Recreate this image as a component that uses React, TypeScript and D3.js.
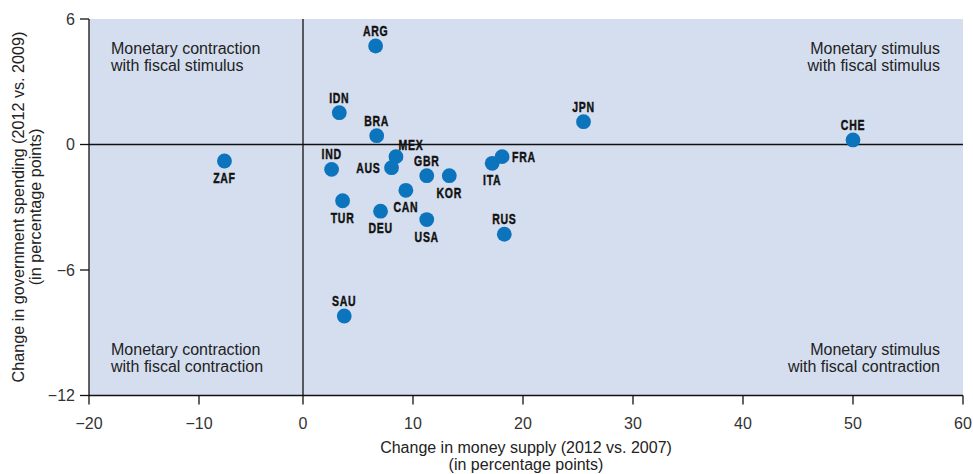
import React from "react";
import * as d3 from "d3";

const countries = ["ARG", "IDN", "BRA", "MEX", "AUS", "IND", "GBR", "KOR", "ITA", "FRA", "CAN", "TUR", "DEU", "USA", "RUS", "JPN", "CHE", "ZAF", "SAU"];
const moneySupply = [6.6, 3.3, 6.7, 8.45, 8.05, 2.6, 11.25, 13.3, 17.2, 18.1, 9.35, 3.6, 7.05, 11.25, 18.3, 25.5, 50.0, -7.55, 3.75];
const govSpending = [4.71, 1.52, 0.42, -0.58, -1.11, -1.19, -1.49, -1.49, -0.9, -0.58, -2.19, -2.69, -3.19, -3.59, -4.29, 1.09, 0.22, -0.79, -8.2];
// label placement: a = above, b = below, l = left, r = right, ar = above-right
const labelPos = ["a", "a", "a", "ar", "l", "a", "a", "b", "b", "r", "b", "b", "b", "b", "a", "a", "a", "b", "a"];

const xTicks = [-20, -10, 0, 10, 20, 30, 40, 50, 60];
const yTicks = [6, 0, -6, -12];

const quadrantLabels = [
  { lines: ["Monetary contraction", "with fiscal stimulus"], corner: "tl" },
  { lines: ["Monetary stimulus", "with fiscal stimulus"], corner: "tr" },
  { lines: ["Monetary contraction", "with fiscal contraction"], corner: "bl" },
  { lines: ["Monetary stimulus", "with fiscal contraction"], corner: "br" },
];

const xTitle = ["Change in money supply (2012 vs. 2007)", "(in percentage points)"];
const yTitle = ["Change in government spending (2012 vs. 2009)", "(in percentage points)"];

const W = 973;
const H = 474;

export default function App() {
  const x = d3.scaleLinear().domain([-20, -10, 0, 60]).range([89, 199, 303, 963]);
  const y = d3.scaleLinear().domain([-12, 6]).range([395.5, 19]);
  const x0 = 89, x1 = 963, y0 = 19, y1 = 395.5;
  const sans = "'Liberation Sans', Arial, sans-serif";
  const textCol = "#222";

  return (
    <svg width={W} height={H} style={{ position: "absolute", left: 0, top: 0, display: "block" }}>
      <rect x={x0} y={y0} width={x1 - x0} height={y1 - y0} fill="#d4deef" />
      {/* zero lines */}
      <line x1={x0} x2={x1} y1={y(0)} y2={y(0)} stroke="#111" strokeWidth={1.3} />
      <line x1={x(0)} x2={x(0)} y1={y0} y2={y1} stroke="#111" strokeWidth={1.3} />
      {/* axes */}
      <line x1={x0} x2={x0} y1={y0} y2={y1} stroke="#111" strokeWidth={1.3} />
      <line x1={x0} x2={x1} y1={y1} y2={y1} stroke="#111" strokeWidth={1.3} />
      {yTicks.map((t) => (
        <g key={"y" + t}>
          <line x1={x0 - 9} x2={x0} y1={y(t)} y2={y(t)} stroke="#111" strokeWidth={1.3} />
          <text x={x0 - 14} y={y(t)} dy="0.36em" textAnchor="end" fontFamily={sans} fontSize={16} fill="#333">
            {t < 0 ? "\u2212" + Math.abs(t) : String(t)}
          </text>
        </g>
      ))}
      {xTicks.map((t) => (
        <g key={"x" + t}>
          <line x1={x(t)} x2={x(t)} y1={y1} y2={y1 + 9} stroke="#111" strokeWidth={1.3} />
          <text x={x(t)} y={y1 + 33} textAnchor="middle" fontFamily={sans} fontSize={16} fill="#333">
            {t < 0 ? "\u2212" + Math.abs(t) : String(t)}
          </text>
        </g>
      ))}
      {/* quadrant labels */}
      {quadrantLabels.map((q, i) => {
        const right = q.corner[1] === "r";
        const top = q.corner[0] === "t";
        const tx = right ? 940 : 111;
        const ty = top ? 53.5 : 354.5;
        return (
          <text key={i} x={tx} y={ty} textAnchor={right ? "end" : "start"} fontFamily={sans} fontSize={16} fill={textCol}>
            {q.lines.map((l, j) => (
              <tspan key={j} x={tx} dy={j === 0 ? 0 : 17.7}>{l}</tspan>
            ))}
          </text>
        );
      })}
      {/* points */}
      {countries.map((c, i) => (
        <circle key={c} cx={x(moneySupply[i])} cy={y(govSpending[i])} r={7.4} fill="#0b74bd" />
      ))}
      {countries.map((c, i) => {
        const px = x(moneySupply[i]);
        const py = y(govSpending[i]);
        const p = labelPos[i];
        let tx = px, ty = py, anchor = "middle";
        if (p === "a") { ty = py - 15.5; }
        else if (p === "b") { ty = py + 16.5; }
        else if (p === "l") { tx = px - 11; anchor = "end"; }
        else if (p === "r") { tx = px + 10; anchor = "start"; }
        else if (p === "ar") { tx = px + 15; ty = py - 12.5; }
        return (
          <text key={"l" + c} transform={`translate(${tx},${ty}) scale(0.7,1)`} dy="0.36em" textAnchor={anchor} fontFamily={sans} fontWeight="bold" fontSize={15} letterSpacing={1} fill="#111" stroke="#111" strokeWidth={0.45}>
            {c}
          </text>
        );
      })}
      {/* axis titles */}
      <text x={526} y={453} textAnchor="middle" fontFamily={sans} fontSize={16} fill={textCol}>{xTitle[0]}</text>
      <text x={526} y={470} textAnchor="middle" fontFamily={sans} fontSize={16} fill={textCol}>{xTitle[1]}</text>
      <text transform="translate(24,207) rotate(-90)" textAnchor="middle" fontFamily={sans} fontSize={16.2} fill={textCol}>{yTitle[0]}</text>
      <text transform="translate(41,207) rotate(-90)" textAnchor="middle" fontFamily={sans} fontSize={16.2} fill={textCol}>{yTitle[1]}</text>
    </svg>
  );
}
